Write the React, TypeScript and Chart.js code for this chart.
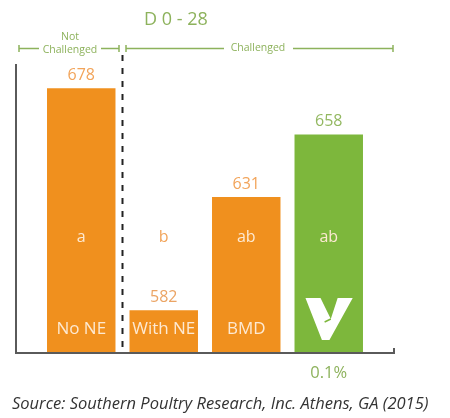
import React, { useEffect, useRef } from "react";
import { Chart, registerables } from "chart.js";

Chart.register(...registerables);

// Body weight gain by treatment, day 0 to 28
const categories = ["No NE", "With NE", "BMD", "0.1%"];
const weightGain = [678, 582, 631, 658];
const significance = ["a", "b", "ab", "ab"];
const barColors = ["#F0901E", "#F0901E", "#F0901E", "#7DB73C"];
const valueColors = ["#F2A45A", "#EBA464", "#F2A45A", "#93B861"];

const ORANGE_TEXT = "#F2A45A";
const GREEN_TEXT = "#8DB25C";
const INNER_TEXT = "#FDE9D2";
const FONT = "'Open Sans', sans-serif";

const annotations = {
  id: "annotations",
  afterDatasetsDraw(chart: any) {
    const { ctx, chartArea } = chart;
    const meta = chart.getDatasetMeta(0);
    const base = chartArea.bottom;
    ctx.save();

    // axis lines
    ctx.strokeStyle = "#5a5a5a";
    ctx.lineWidth = 2;
    ctx.beginPath();
    ctx.moveTo(16, chartArea.top);
    ctx.lineTo(16, base + 1);
    ctx.lineTo(394, base + 1);
    ctx.lineTo(394, base - 4);
    ctx.stroke();

    // dashed divider between the unchallenged and challenged groups
    const b0 = meta.data[0];
    const b1 = meta.data[1];
    const divX = (b0.x + b0.width / 2 + b1.x - b1.width / 2) / 2;
    ctx.strokeStyle = "#222";
    ctx.setLineDash([6, 7]);
    ctx.beginPath();
    ctx.moveTo(divX, 55);
    ctx.lineTo(divX, base);
    ctx.stroke();
    ctx.setLineDash([]);

    ctx.textAlign = "center";
    ctx.textBaseline = "middle";

    meta.data.forEach((bar: any, i: number) => {
      const top = bar.y;
      // value above the bar
      ctx.font = `16px ${FONT}`;
      ctx.fillStyle = valueColors[i];
      ctx.fillText(String(weightGain[i]), bar.x, top - 13);

      // significance letter
      const letterY = 237;
      ctx.fillStyle = letterY > top ? INNER_TEXT : ORANGE_TEXT;
      ctx.fillText(significance[i], bar.x, letterY);

      if (i < 3) {
        ctx.font = `17px ${FONT}`;
        ctx.fillStyle = INNER_TEXT;
        ctx.fillText(categories[i], bar.x, base - 23);
      } else {
        // product mark inside the bar
        const w = bar.width;
        const cx = bar.x;
        const pts = [
          [-0.34, -54], [-0.12, -54], [0.03, -33], [0.13, -54],
          [0.35, -54], [0.01, -12], [-0.1, -12],
        ];
        ctx.fillStyle = "#ffffff";
        ctx.beginPath();
        pts.forEach(([dx, dy], k) => {
          const px = cx + dx * w;
          const py = base + dy;
          if (k === 0) ctx.moveTo(px, py);
          else ctx.lineTo(px, py);
        });
        ctx.closePath();
        ctx.fill();
        ctx.strokeStyle = barColors[3];
        ctx.lineWidth = 1.5;
        ctx.beginPath();
        ctx.moveTo(cx + 0.03 * w, base - 33);
        ctx.lineTo(cx - 0.06 * w, base - 30);
        ctx.stroke();

        ctx.font = `16.5px ${FONT}`;
        ctx.fillStyle = GREEN_TEXT;
        ctx.fillText(categories[i], bar.x, base + 21);
      }
    });

    // period title
    ctx.font = `18px ${FONT}`;
    ctx.fillStyle = GREEN_TEXT;
    ctx.fillText("D 0 - 28", 176, 20);

    // group brackets
    ctx.strokeStyle = "#8DB25C";
    ctx.lineWidth = 1.5;
    const bracket = (x1: number, x2: number, gapL: number, gapR: number) => {
      ctx.beginPath();
      ctx.moveTo(x1, 45);
      ctx.lineTo(x1, 52);
      ctx.moveTo(x2, 45);
      ctx.lineTo(x2, 52);
      ctx.moveTo(x1, 48.5);
      ctx.lineTo(gapL, 48.5);
      ctx.moveTo(gapR, 48.5);
      ctx.lineTo(x2, 48.5);
      ctx.stroke();
    };
    bracket(19, 119, 39, 101);
    bracket(126, 393, 224, 293);
    ctx.font = `10.5px ${FONT}`;
    ctx.fillStyle = GREEN_TEXT;
    ctx.fillText("Not", 70, 37);
    ctx.fillText("Challenged", 70, 50);
    ctx.fillText("Challenged", 258, 48);

    // source note
    ctx.font = `italic 16.5px ${FONT}`;
    ctx.fillStyle = "#333";
    ctx.textAlign = "left";
    ctx.fillText("Source: Southern Poultry Research, Inc. Athens, GA (2015)", 12, 404);

    ctx.restore();
  },
};

export default function App() {
  const canvasRef = useRef<HTMLCanvasElement>(null);

  useEffect(() => {
    document.body.style.margin = "0";
    const chart = new Chart(canvasRef.current!, {
      type: "bar",
      data: {
        labels: categories,
        datasets: [
          {
            data: weightGain,
            backgroundColor: barColors,
            borderWidth: 0,
            barPercentage: 0.83,
            categoryPercentage: 1,
          },
        ],
      },
      options: {
        animation: false,
        responsive: false,
        layout: { padding: { left: 40, right: 80, top: 64, bottom: 66 } },
        plugins: {
          legend: { display: false },
          tooltip: { enabled: false },
          title: { display: false },
        },
        scales: {
          x: { display: false },
          y: { display: false, min: 564, max: 688.5 },
        },
      },
      plugins: [annotations],
    });
    return () => chart.destroy();
  }, []);

  return (
    <div style={{ width: 450, height: 418, background: "#fff" }}>
      <canvas ref={canvasRef} width={450} height={418} />
    </div>
  );
}
